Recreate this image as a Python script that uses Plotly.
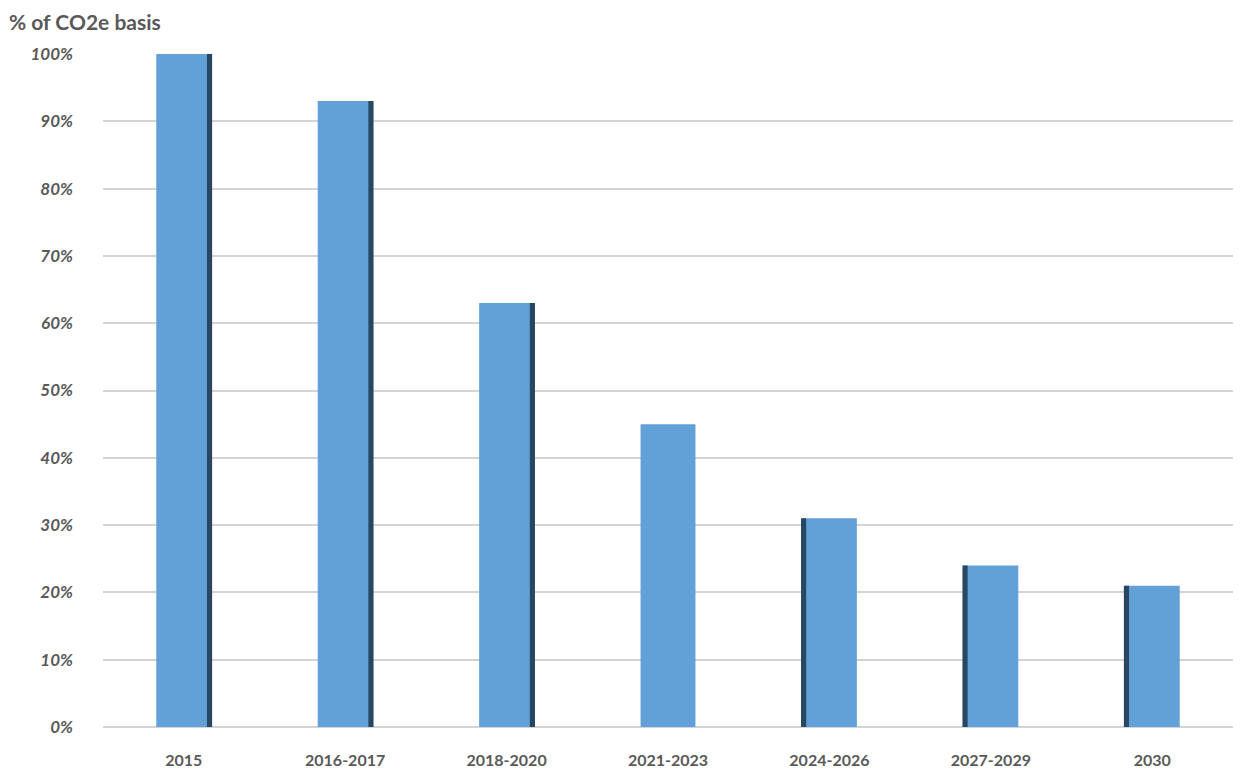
import plotly.graph_objects as go

categories = ["2015", "2016-2017", "2018-2020", "2021-2023", "2024-2026", "2027-2029", "2030"]
values = [100, 93, 63, 45, 31, 24, 21]
tick_vals = [0, 10, 20, 30, 40, 50, 60, 70, 80, 90, 100]
tick_text = [f"{v}%" for v in tick_vals]

BAR_W = 0.34
SIDE_W = 0.032
mid = (len(categories) - 1) / 2

side_x, side_y, side_off = [], [], []
for i, (c, v) in enumerate(zip(categories, values)):
    if i < mid:
        side_x.append(c); side_y.append(v); side_off.append(BAR_W / 2 - SIDE_W + 0.006)
    elif i > mid:
        side_x.append(c); side_y.append(v); side_off.append(-BAR_W / 2 - 0.006)

# page body has an 8px margin, so the figure is sized to fit the window
W, H = 1239, 765
L, R, T, B = 95, 14, 46, 46
pw, ph = W - L - R, H - T - B

fig = go.Figure()
fig.add_trace(go.Bar(
    x=categories, y=values, width=BAR_W, offset=-BAR_W / 2,
    marker=dict(color="#62a1d8", line=dict(width=0)),
    hoverinfo="x+y", showlegend=False,
))
fig.add_trace(go.Bar(
    x=side_x, y=side_y, width=SIDE_W, offset=side_off,
    marker=dict(color="#274763", line=dict(width=0)),
    hoverinfo="skip", showlegend=False,
))

fig.update_layout(
    width=W, height=H,
    barmode="overlay",
    plot_bgcolor="white", paper_bgcolor="white",
    margin=dict(l=L, r=R, t=T, b=B),
    font=dict(family="Lato, Open Sans, sans-serif", color="#595959"),
    annotations=[dict(
        text="<b>% of CO2e basis</b>", xref="paper", yref="paper",
        x=(0 - L) / pw, y=1 + T / ph, xanchor="left", yanchor="top",
        borderpad=0, showarrow=False, font=dict(size=21, color="#595959"),
    )],
)
fig.update_xaxes(
    automargin=False,
    showgrid=False, showline=False, zeroline=False, ticks="",
    tickfont=dict(size=16, color="#595959", weight="bold"),
    ticklabelstandoff=22,
)
fig.update_yaxes(
    automargin=False,
    range=[0, 100], tickvals=tick_vals, ticktext=tick_text,
    showgrid=True, gridcolor="#d4d4d4", gridwidth=2,
    zeroline=True, zerolinecolor="#d4d4d4", zerolinewidth=2,
    showline=False, ticks="",
    tickfont=dict(size=17, color="#595959", style="italic", weight="bold"),
    ticklabelstandoff=29,
)

fig.write_html("out.html")
